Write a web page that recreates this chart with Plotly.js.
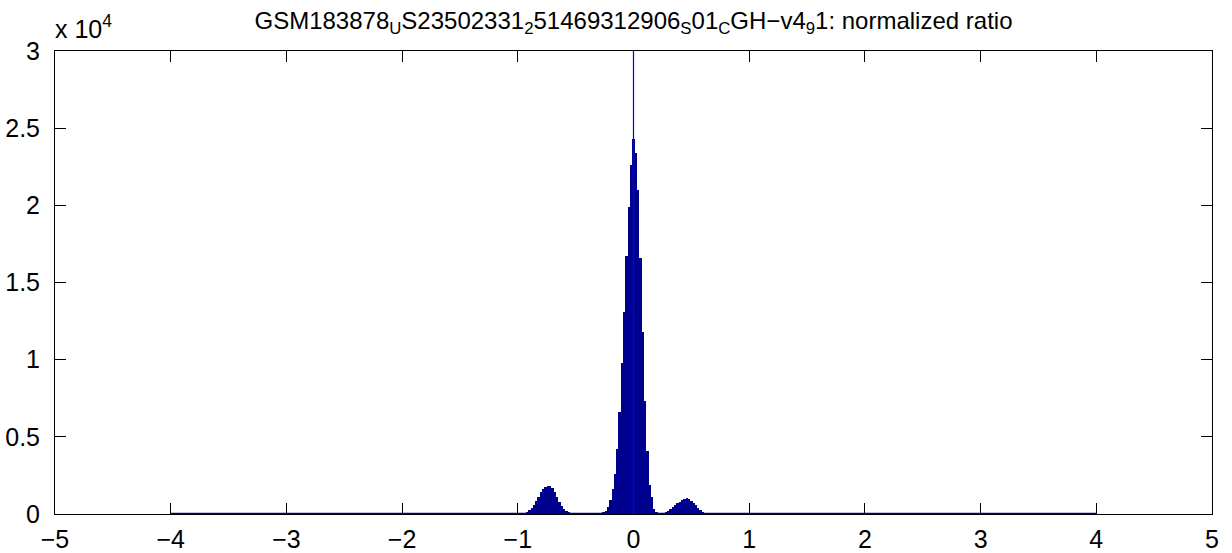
<!DOCTYPE html>
<html>
<head>
<meta charset="utf-8">
<script src="https://cdn.plot.ly/plotly-3.0.1.min.js"></script>
<style>html,body{margin:0;padding:0;background:#fff;}#chart{width:1232px;height:553px;}</style>
</head>
<body>
<div id="chart"></div>
<script>
// Histogram bins: first bin centre and bin width (data units)
const binStart = -1.10;
const binWidth = 0.02;
// Counts per bin from -1.10 to 0.80
const counts = [
  5, 6, 8, 10, 12, 15, 22, 40, 80, 150,
  250, 400, 600, 850, 1120, 1400, 1630, 1780, 1830, 1810,
  1680, 1400, 1100, 800, 550, 350, 220, 130, 90, 70,
  60, 55, 55, 55, 55, 55, 55, 55, 60, 65,
  70, 80, 100, 200, 450, 900, 1600, 2600, 4200, 6600,
  9800, 13100, 16700, 19900, 22600, 24300, 23400, 21000, 16600, 11800,
  7300, 4100, 1900, 1100, 300, 120, 80, 70, 90, 130,
  200, 300, 450, 580, 700, 800, 900, 980, 1020, 950,
  850, 720, 560, 400, 270, 160, 90, 50, 30, 20,
  15, 12, 10, 8, 6, 5
];
// Full histogram range (zero-height bins drawn as baseline)
const histRange = [-4, 4];
const baseLevel = [0, 0];
// Vertical reference line at 0
const refX = [0, 0];
const refY = [0, 30000];

const xTicks = [-5, -4, -3, -2, -1, 0, 1, 2, 3, 4, 5];
const xTickText = ['\u22125', '\u22124', '\u22123', '\u22122', '\u22121', '0', '1', '2', '3', '4', '5'];
const yTicks = [0, 5000, 10000, 15000, 20000, 25000, 30000];
const yTickText = ['0', '0.5', '1', '1.5', '2', '2.5', '3'];

const navy = '#00008F';
const font = 'Liberation Sans, Arial, sans-serif';

const traces = [
  {
    type: 'scatter', mode: 'lines', x: histRange, y: baseLevel,
    line: {color: navy, width: 2.5}, hoverinfo: 'skip', cliponaxis: false
  },
  {
    type: 'bar', x0: binStart, dx: binWidth, y: counts, width: binWidth,
    marker: {color: navy, line: {width: 0}}
  },
  {
    type: 'scatter', mode: 'lines', x: refX, y: refY,
    line: {color: '#0000FF', width: 1.2}, hoverinfo: 'skip'
  }
];

const layout = {
  width: 1232, height: 553,
  margin: {l: 55, r: 20, t: 51, b: 39},
  paper_bgcolor: '#fff', plot_bgcolor: '#fff',
  showlegend: false, bargap: 0,
  font: {family: font, color: '#000'},
  title: {
    text: 'GSM183878<sub>U</sub>S23502331<sub>2</sub>51469312906<sub>S</sub>01<sub>C</sub>GH\u2212v4<sub>9</sub>1: normalized ratio',
    font: {family: font, size: 24, color: '#000'},
    x: 0.5, xref: 'paper', xanchor: 'center', y: 0.963, yref: 'container', yanchor: 'middle'
  },
  xaxis: {
    range: [-5, 5], tickvals: xTicks, ticktext: xTickText,
    ticks: 'inside', ticklen: 11, tickcolor: '#000', tickwidth: 1,
    showline: true, linecolor: '#000', linewidth: 1, mirror: 'ticks',
    showgrid: false, zeroline: false, layer: 'below traces',
    ticklabelstandoff: 3,
    tickfont: {family: font, size: 25, color: '#000'}
  },
  yaxis: {
    range: [0, 30000], tickvals: yTicks, ticktext: yTickText,
    ticks: 'inside', ticklen: 11, tickcolor: '#000', tickwidth: 1,
    showline: true, linecolor: '#000', linewidth: 1, mirror: 'ticks',
    showgrid: false, zeroline: false, layer: 'below traces',
    ticklabelstandoff: 9,
    tickfont: {family: font, size: 25, color: '#000'}
  },
  annotations: [{
    text: 'x 10<sup>4</sup>', xref: 'paper', yref: 'paper', x: 0, y: 1,
    xanchor: 'left', yanchor: 'bottom', showarrow: false, yshift: 6, xshift: -2,
    font: {family: font, size: 25, color: '#000'}
  }]
};

Plotly.newPlot('chart', traces, layout, {displayModeBar: false, staticPlot: true});
</script>
</body>
</html>
